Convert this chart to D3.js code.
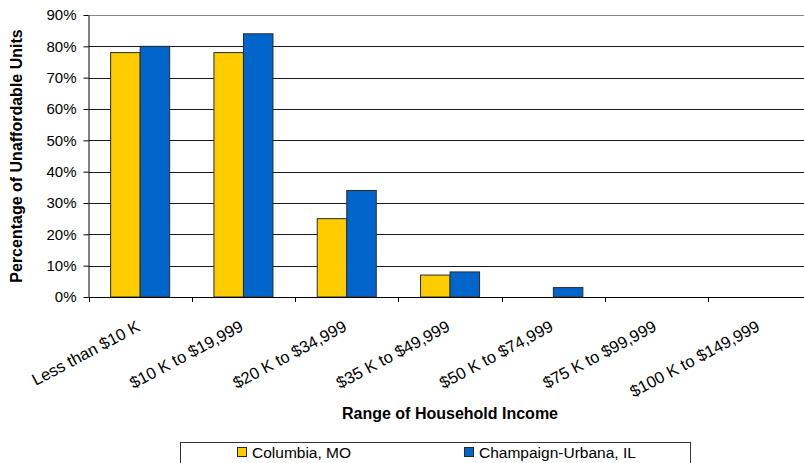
<!DOCTYPE html>
<html>
<head>
<meta charset="utf-8">
<script src="https://cdn.jsdelivr.net/npm/d3@7"></script>
<style>
  body { margin: 0; background: #fff; }
  svg { display: block; font-family: Arial, "Liberation Sans", sans-serif; }
</style>
</head>
<body>
<svg id="chart" width="804" height="463"></svg>
<script>
// categories and values
const categories = ['Less than $10 K', '$10 K to $19,999', '$20 K to $34,999', '$35 K to $49,999',
                    '$50 K to $74,999', '$75 K to $99,999', '$100 K to $149,999'];
const series = ['Columbia, MO', 'Champaign-Urbana, IL'];
const columbia = [78, 78, 25, 7, 0, 0, 0];
const champaign = [80, 84, 34, 8, 3, 0, 0];
const yTicks = [0, 10, 20, 30, 40, 50, 60, 70, 80, 90];
const colors = ['#FFCC00', '#0066CC'];

const svg = d3.select('#chart');

const plotLeft = 88.5, plotTop = 15, plotBottom = 297;
const plotRight = plotLeft + 7 * 103.3;   // plot area runs off the right edge

const x = d3.scaleBand().domain(categories).range([plotLeft, plotRight]).padding(0);
const x1 = d3.scaleBand().domain(series).range([0, x.bandwidth()]).paddingInner(0).paddingOuter(0.75);
const y = d3.scaleLinear().domain([0, 90]).range([plotBottom, plotTop]);

// gridlines
svg.append('g')
  .selectAll('line')
  .data(yTicks.filter(d => d > 0))
  .enter()
  .append('line')
  .attr('x1', plotLeft)
  .attr('x2', plotRight)
  .attr('y1', d => Math.round(y(d)) + 0.5)
  .attr('y2', d => Math.round(y(d)) + 0.5)
  .attr('stroke', d => d === 90 ? '#8a8a8a' : '#1a1a1a')
  .attr('stroke-width', 1);

// bars
const rows = categories.map((c, i) => ({ cat: c, vals: [columbia[i], champaign[i]] }));
const groups = svg.append('g')
  .selectAll('g')
  .data(rows)
  .enter()
  .append('g')
  .attr('transform', d => `translate(${x(d.cat)},0)`);

groups.selectAll('rect')
  .data(d => d.vals.map((v, j) => ({ s: series[j], v: v, j: j })).filter(b => b.v > 0))
  .enter()
  .append('rect')
  .attr('x', d => x1(d.s))
  .attr('y', d => y(d.v))
  .attr('width', x1.bandwidth())
  .attr('height', d => y(0) - y(d.v))
  .attr('fill', d => colors[d.j])
  .attr('stroke', '#2a2a2a')
  .attr('stroke-width', 1);

// y axis
const yAxis = svg.append('g')
  .attr('transform', `translate(${plotLeft},0)`)
  .call(d3.axisLeft(y).tickValues(yTicks).tickFormat(d => d + '%').tickSize(5).tickSizeOuter(0));
yAxis.select('.domain').attr('stroke', '#000');
yAxis.selectAll('.tick line').attr('stroke', '#000');
yAxis.selectAll('text')
  .attr('font-size', 15)
  .attr('fill', '#000')
  .attr('x', -12);

// x axis
const xTickPos = d3.range(0, 7).map(i => plotLeft + i * x.step());
const xAxis = svg.append('g');
xAxis.append('line')
  .attr('x1', plotLeft).attr('x2', plotRight)
  .attr('y1', plotBottom + 0.5).attr('y2', plotBottom + 0.5)
  .attr('stroke', '#000');
xAxis.selectAll('line.tk')
  .data(xTickPos)
  .enter()
  .append('line')
  .attr('class', 'tk')
  .attr('x1', d => Math.round(d) + 0.5).attr('x2', d => Math.round(d) + 0.5)
  .attr('y1', plotBottom).attr('y2', plotBottom + 5)
  .attr('stroke', '#000');

xAxis.selectAll('text')
  .data(categories)
  .enter()
  .append('text')
  .attr('transform', d => `translate(${x(d) + x.bandwidth() / 2 + 1},330) rotate(-28)`)
  .attr('text-anchor', 'end')
  .attr('font-size', 16.5)
  .attr('fill', '#000')
  .text(d => d);

// axis titles
svg.append('text')
  .attr('x', 450)
  .attr('y', 419)
  .attr('text-anchor', 'middle')
  .attr('font-size', 16)
  .attr('font-weight', 'bold')
  .text('Range of Household Income');

svg.append('text')
  .attr('transform', 'translate(22,156) rotate(-90)')
  .attr('text-anchor', 'middle')
  .attr('font-size', 16)
  .attr('font-weight', 'bold')
  .text('Percentage of Unaffordable Units');

// legend
const legend = svg.append('g');
legend.append('rect')
  .attr('x', 180.5).attr('y', 442.5)
  .attr('width', 510).attr('height', 40)
  .attr('fill', '#fff')
  .attr('stroke', '#333');

const legX = [237, 464];
series.forEach((s, i) => {
  legend.append('rect')
    .attr('x', legX[i] + 0.5).attr('y', 447.5)
    .attr('width', 9).attr('height', 9)
    .attr('fill', colors[i])
    .attr('stroke', '#2a2a2a');
  legend.append('text')
    .attr('x', legX[i] + 15)
    .attr('y', 457.5)
    .attr('font-size', 15.5)
    .attr('fill', '#000')
    .text(s);
});
</script>
</body>
</html>
